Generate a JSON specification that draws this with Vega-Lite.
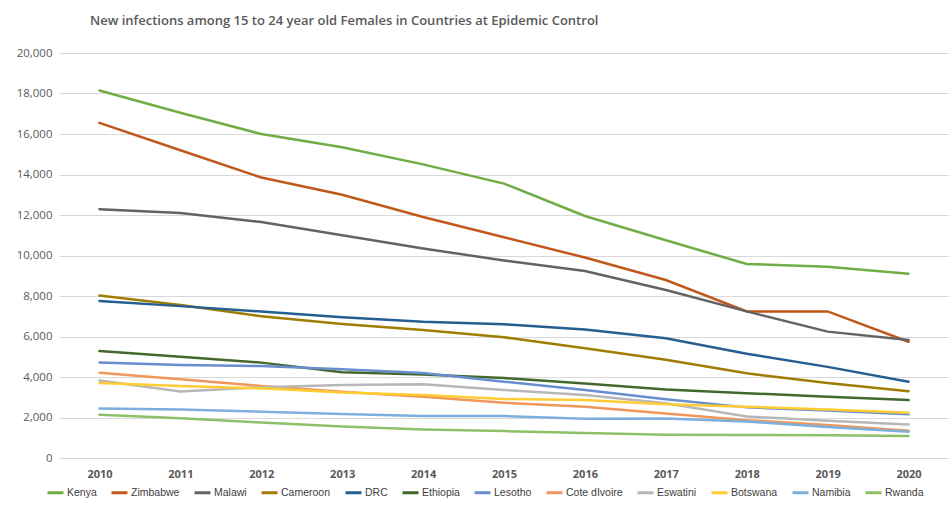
{
  "$schema": "https://vega.github.io/schema/vega-lite/v6.json",
  "autosize": "none",
  "padding": {"left": 59, "top": 53, "right": 0, "bottom": 54},
  "width": 890,
  "height": 405,
  "background": "white",
  "title": {
    "text": "New infections among 15 to 24 year old Females in Countries at Epidemic Control",
    "anchor": "start",
    "frame": "group",
    "dx": 31,
    "offset": 19,
    "font": "Open Sans",
    "fontSize": 13,
    "fontWeight": 600,
    "color": "#595959"
  },
  "config": {
    "view": {"stroke": null},
    "axis": {"labelFont": "Open Sans", "labelColor": "#595959", "labelFontSize": 11}
  },
  "data": {
    "values": [
      {"country": "Kenya", "year": "2010", "value": 18150},
      {"country": "Kenya", "year": "2011", "value": 17050},
      {"country": "Kenya", "year": "2012", "value": 16000},
      {"country": "Kenya", "year": "2013", "value": 15350},
      {"country": "Kenya", "year": "2014", "value": 14500},
      {"country": "Kenya", "year": "2015", "value": 13550},
      {"country": "Kenya", "year": "2016", "value": 11950},
      {"country": "Kenya", "year": "2017", "value": 10750},
      {"country": "Kenya", "year": "2018", "value": 9580},
      {"country": "Kenya", "year": "2019", "value": 9450},
      {"country": "Kenya", "year": "2020", "value": 9100},
      {"country": "Zimbabwe", "year": "2010", "value": 16550},
      {"country": "Zimbabwe", "year": "2011", "value": 15200},
      {"country": "Zimbabwe", "year": "2012", "value": 13850},
      {"country": "Zimbabwe", "year": "2013", "value": 13000},
      {"country": "Zimbabwe", "year": "2014", "value": 11900},
      {"country": "Zimbabwe", "year": "2015", "value": 10900},
      {"country": "Zimbabwe", "year": "2016", "value": 9900},
      {"country": "Zimbabwe", "year": "2017", "value": 8790},
      {"country": "Zimbabwe", "year": "2018", "value": 7240},
      {"country": "Zimbabwe", "year": "2019", "value": 7240},
      {"country": "Zimbabwe", "year": "2020", "value": 5740},
      {"country": "Malawi", "year": "2010", "value": 12290},
      {"country": "Malawi", "year": "2011", "value": 12100},
      {"country": "Malawi", "year": "2012", "value": 11650},
      {"country": "Malawi", "year": "2013", "value": 11000},
      {"country": "Malawi", "year": "2014", "value": 10350},
      {"country": "Malawi", "year": "2015", "value": 9750},
      {"country": "Malawi", "year": "2016", "value": 9230},
      {"country": "Malawi", "year": "2017", "value": 8300},
      {"country": "Malawi", "year": "2018", "value": 7240},
      {"country": "Malawi", "year": "2019", "value": 6240},
      {"country": "Malawi", "year": "2020", "value": 5830},
      {"country": "Cameroon", "year": "2010", "value": 8020},
      {"country": "Cameroon", "year": "2011", "value": 7550},
      {"country": "Cameroon", "year": "2012", "value": 7000},
      {"country": "Cameroon", "year": "2013", "value": 6620},
      {"country": "Cameroon", "year": "2014", "value": 6320},
      {"country": "Cameroon", "year": "2015", "value": 5960},
      {"country": "Cameroon", "year": "2016", "value": 5420},
      {"country": "Cameroon", "year": "2017", "value": 4850},
      {"country": "Cameroon", "year": "2018", "value": 4180},
      {"country": "Cameroon", "year": "2019", "value": 3700},
      {"country": "Cameroon", "year": "2020", "value": 3300},
      {"country": "DRC", "year": "2010", "value": 7750},
      {"country": "DRC", "year": "2011", "value": 7500},
      {"country": "DRC", "year": "2012", "value": 7230},
      {"country": "DRC", "year": "2013", "value": 6950},
      {"country": "DRC", "year": "2014", "value": 6730},
      {"country": "DRC", "year": "2015", "value": 6600},
      {"country": "DRC", "year": "2016", "value": 6350},
      {"country": "DRC", "year": "2017", "value": 5910},
      {"country": "DRC", "year": "2018", "value": 5150},
      {"country": "DRC", "year": "2019", "value": 4500},
      {"country": "DRC", "year": "2020", "value": 3770},
      {"country": "Ethiopia", "year": "2010", "value": 5280},
      {"country": "Ethiopia", "year": "2011", "value": 5000},
      {"country": "Ethiopia", "year": "2012", "value": 4710},
      {"country": "Ethiopia", "year": "2013", "value": 4230},
      {"country": "Ethiopia", "year": "2014", "value": 4120},
      {"country": "Ethiopia", "year": "2015", "value": 3950},
      {"country": "Ethiopia", "year": "2016", "value": 3680},
      {"country": "Ethiopia", "year": "2017", "value": 3380},
      {"country": "Ethiopia", "year": "2018", "value": 3200},
      {"country": "Ethiopia", "year": "2019", "value": 3030},
      {"country": "Ethiopia", "year": "2020", "value": 2860},
      {"country": "Lesotho", "year": "2010", "value": 4720},
      {"country": "Lesotho", "year": "2011", "value": 4590},
      {"country": "Lesotho", "year": "2012", "value": 4540},
      {"country": "Lesotho", "year": "2013", "value": 4380},
      {"country": "Lesotho", "year": "2014", "value": 4200},
      {"country": "Lesotho", "year": "2015", "value": 3770},
      {"country": "Lesotho", "year": "2016", "value": 3360},
      {"country": "Lesotho", "year": "2017", "value": 2900},
      {"country": "Lesotho", "year": "2018", "value": 2500},
      {"country": "Lesotho", "year": "2019", "value": 2350},
      {"country": "Lesotho", "year": "2020", "value": 2160},
      {"country": "Cote dIvoire", "year": "2010", "value": 4210},
      {"country": "Cote dIvoire", "year": "2011", "value": 3890},
      {"country": "Cote dIvoire", "year": "2012", "value": 3560},
      {"country": "Cote dIvoire", "year": "2013", "value": 3270},
      {"country": "Cote dIvoire", "year": "2014", "value": 3030},
      {"country": "Cote dIvoire", "year": "2015", "value": 2730},
      {"country": "Cote dIvoire", "year": "2016", "value": 2530},
      {"country": "Cote dIvoire", "year": "2017", "value": 2200},
      {"country": "Cote dIvoire", "year": "2018", "value": 1870},
      {"country": "Cote dIvoire", "year": "2019", "value": 1630},
      {"country": "Cote dIvoire", "year": "2020", "value": 1350},
      {"country": "Eswatini", "year": "2010", "value": 3830},
      {"country": "Eswatini", "year": "2011", "value": 3280},
      {"country": "Eswatini", "year": "2012", "value": 3490},
      {"country": "Eswatini", "year": "2013", "value": 3600},
      {"country": "Eswatini", "year": "2014", "value": 3640},
      {"country": "Eswatini", "year": "2015", "value": 3360},
      {"country": "Eswatini", "year": "2016", "value": 3110},
      {"country": "Eswatini", "year": "2017", "value": 2700},
      {"country": "Eswatini", "year": "2018", "value": 2050},
      {"country": "Eswatini", "year": "2019", "value": 1840},
      {"country": "Eswatini", "year": "2020", "value": 1660},
      {"country": "Botswana", "year": "2010", "value": 3700},
      {"country": "Botswana", "year": "2011", "value": 3560},
      {"country": "Botswana", "year": "2012", "value": 3440},
      {"country": "Botswana", "year": "2013", "value": 3230},
      {"country": "Botswana", "year": "2014", "value": 3110},
      {"country": "Botswana", "year": "2015", "value": 2910},
      {"country": "Botswana", "year": "2016", "value": 2860},
      {"country": "Botswana", "year": "2017", "value": 2650},
      {"country": "Botswana", "year": "2018", "value": 2530},
      {"country": "Botswana", "year": "2019", "value": 2400},
      {"country": "Botswana", "year": "2020", "value": 2240},
      {"country": "Namibia", "year": "2010", "value": 2440},
      {"country": "Namibia", "year": "2011", "value": 2400},
      {"country": "Namibia", "year": "2012", "value": 2290},
      {"country": "Namibia", "year": "2013", "value": 2170},
      {"country": "Namibia", "year": "2014", "value": 2070},
      {"country": "Namibia", "year": "2015", "value": 2070},
      {"country": "Namibia", "year": "2016", "value": 1940},
      {"country": "Namibia", "year": "2017", "value": 1950},
      {"country": "Namibia", "year": "2018", "value": 1800},
      {"country": "Namibia", "year": "2019", "value": 1530},
      {"country": "Namibia", "year": "2020", "value": 1300},
      {"country": "Rwanda", "year": "2010", "value": 2140},
      {"country": "Rwanda", "year": "2011", "value": 1960},
      {"country": "Rwanda", "year": "2012", "value": 1750},
      {"country": "Rwanda", "year": "2013", "value": 1550},
      {"country": "Rwanda", "year": "2014", "value": 1410},
      {"country": "Rwanda", "year": "2015", "value": 1330},
      {"country": "Rwanda", "year": "2016", "value": 1240},
      {"country": "Rwanda", "year": "2017", "value": 1150},
      {"country": "Rwanda", "year": "2018", "value": 1140},
      {"country": "Rwanda", "year": "2019", "value": 1120},
      {"country": "Rwanda", "year": "2020", "value": 1090}
    ]
  },
  "mark": {"type": "line", "strokeWidth": 2.5, "strokeCap": "round"},
  "encoding": {
    "x": {
      "field": "year",
      "type": "ordinal",
      "scale": {"type": "point", "padding": 0.5},
      "axis": {
        "title": null,
        "labelAngle": 0,
        "labelFontWeight": "bold",
        "labelPadding": 10,
        "ticks": false,
        "domainColor": "#D9D9D9",
        "domainWidth": 1
      }
    },
    "y": {
      "field": "value",
      "type": "quantitative",
      "scale": {"domain": [0, 20000], "nice": false},
      "axis": {
        "title": null,
        "values": [0, 2000, 4000, 6000, 8000, 10000, 12000, 14000, 16000, 18000, 20000],
        "format": ",.0f",
        "labelOverlap": false,
        "labelFontSize": 11.5,
        "ticks": false,
        "domain": false,
        "gridColor": "#D9D9D9",
        "labelPadding": 7
      }
    },
    "color": {
      "field": "country",
      "type": "nominal",
      "sort": null,
      "scale": {
        "domain": ["Kenya", "Zimbabwe", "Malawi", "Cameroon", "DRC", "Ethiopia", "Lesotho", "Cote dIvoire", "Eswatini", "Botswana", "Namibia", "Rwanda"],
        "range": ["#70AD47", "#C0581C", "#636363", "#A07C00", "#255E91", "#43682B", "#698ED0", "#F1975A", "#B7B7B7", "#FFCD33", "#7CAFDD", "#8CC168"]
      },
      "legend": {
        "title": null,
        "orient": "none",
        "legendX": -13,
        "legendY": 430,
        "direction": "horizontal",
        "columns": 12,
        "columnPadding": 8,
        "symbolType": "stroke",
        "symbolSize": 256,
        "symbolStrokeWidth": 3,
        "labelFont": "Liberation Sans",
        "labelFontSize": 10.5,
        "labelColor": "#404040",
        "labelOffset": 2
      }
    }
  }
}
